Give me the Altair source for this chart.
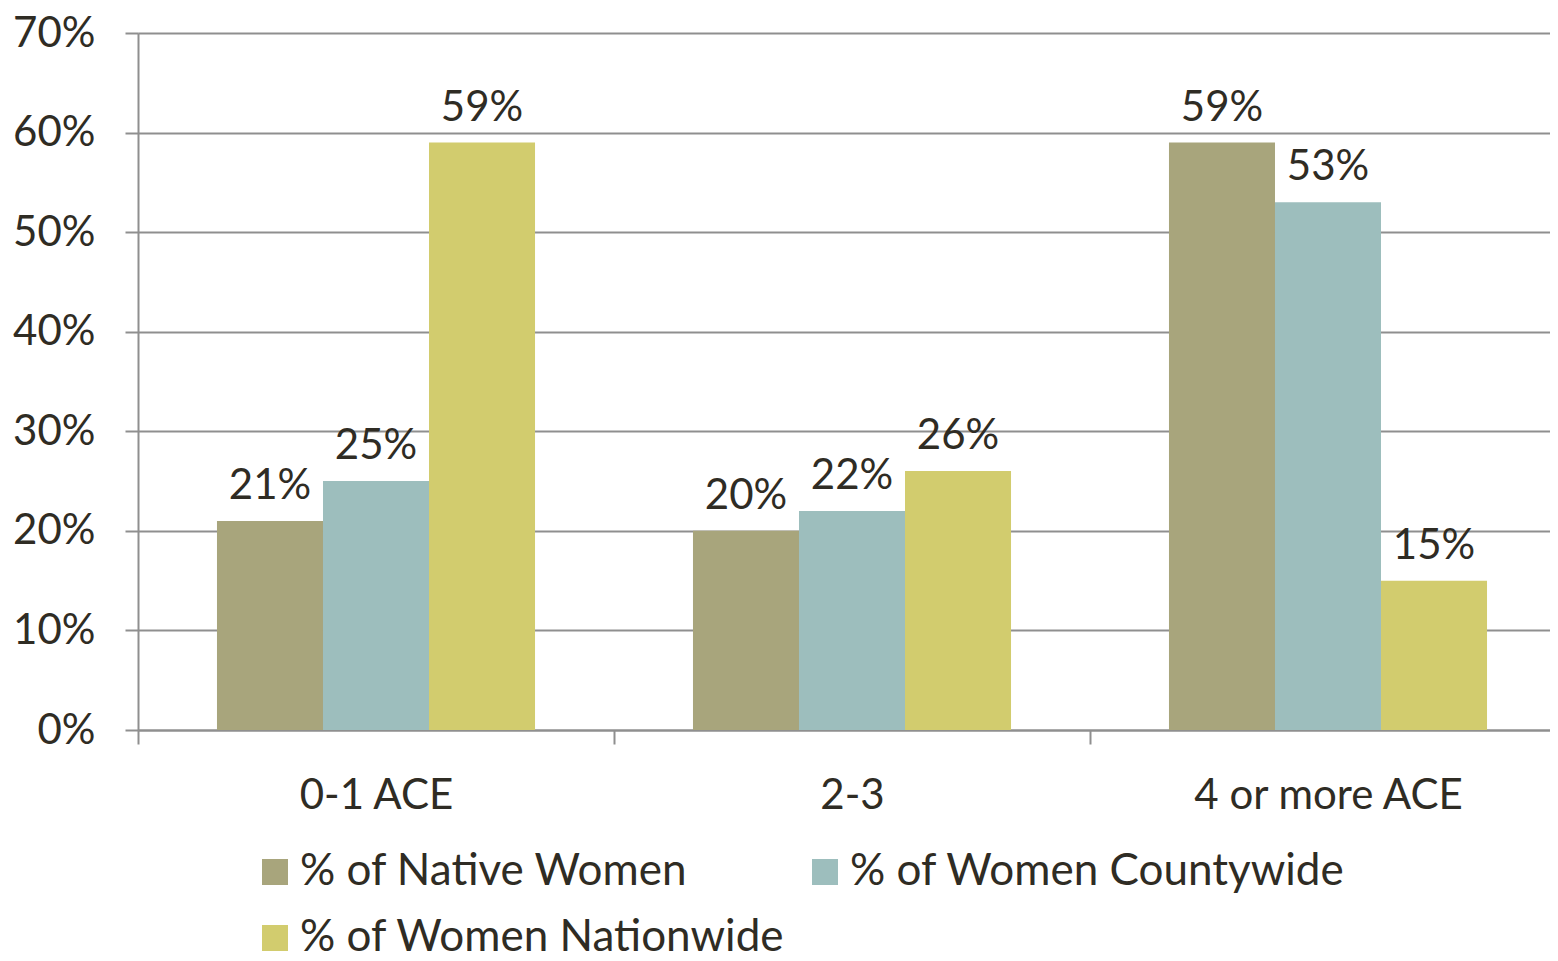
import altair as alt
import pandas as pd

categories = ["0-1 ACE", "2-3", "4 or more ACE"]
series = ["% of Native Women", "% of Women Countywide", "% of Women Nationwide"]
native = [21, 20, 59]
countywide = [25, 22, 53]
nationwide = [59, 26, 15]
colors = ["#A8A57C", "#9DBEBD", "#D2CC6E"]
y_ticks = [0, 10, 20, 30, 40, 50, 60, 70]

rows = []
for s, vals in zip(series, [native, countywide, nationwide]):
    for c, v in zip(categories, vals):
        rows.append({"cat": c, "series": s, "value": v, "label": f"{v}%"})
df = pd.DataFrame(rows)

FONT = "Lato"
TXT = "#2F2C24"
GRID = "#8F8F8F"

x_enc = alt.X("cat:N", sort=categories, title=None,
              scale=alt.Scale(paddingInner=0, paddingOuter=0, range=[0, 1428]),
              axis=alt.Axis(labelAngle=0, labelFontSize=42, labelFont=FONT, labelColor=TXT,
                            tickBand="extent", tickSize=14, tickColor=GRID, tickWidth=2,
                            domainColor=GRID, domainWidth=2, labelPadding=64,
                            labelBaseline="alphabetic", labelLimit=1000, grid=False))
xoff = alt.XOffset("series:N", sort=series,
                   scale=alt.Scale(paddingInner=0, paddingOuter=0.745))

bars = alt.Chart(df).mark_bar().encode(
    x=x_enc,
    xOffset=xoff,
    y=alt.Y("value:Q", title=None,
            scale=alt.Scale(domain=[0, 70], nice=False),
            axis=alt.Axis(values=y_ticks, labelExpr="datum.value + '%'",
                          labelFontSize=42, labelFont=FONT, labelColor=TXT,
                          tickSize=13, tickColor=GRID, tickWidth=2,
                          domainColor=GRID, domainWidth=2, labelPadding=30,
                          grid=True, gridColor=GRID, gridWidth=2)),
    color=alt.Color("series:N", sort=series,
                    scale=alt.Scale(domain=series, range=colors),
                    legend=alt.Legend(title=None, orient="none", legendX=115, legendY=817,
                                      direction="horizontal", columns=2,
                                      symbolType="square", symbolSize=676,
                                      symbolStrokeWidth=0, labelFontSize=44, labelFont=FONT,
                                      labelColor=TXT, labelOffset=3, columnPadding=18,
                                      rowPadding=22, labelLimit=800, padding=0)),
)

text = alt.Chart(df).mark_text(fontSize=42, font=FONT, color=TXT, dy=-22,
                               baseline="alphabetic", align="center").encode(
    x=alt.X("cat:N", sort=categories),
    xOffset=xoff,
    y=alt.Y("value:Q"),
    text="label:N",
)

chart = alt.layer(bars, text).properties(
    width=1412, height=697,
    autosize=alt.AutoSizeParams(type="none"),
    padding={"left": 130, "top": 25, "right": 0, "bottom": 231},
).configure_view(stroke=None).configure(background="white")

chart.save("out.html", embed_options={"renderer": "svg", "actions": False})
